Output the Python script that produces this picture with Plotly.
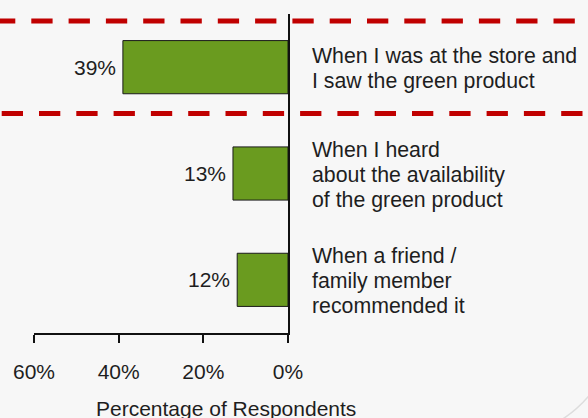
import plotly.graph_objects as go

# Data
labels = [
    ["When I was at the store and", "I saw the green product"],
    ["When I heard", "about the availability", "of the green product"],
    ["When a friend /", "family member", "recommended it"],
]
values = [39, 13, 12]
tick_vals = [60, 40, 20, 0]
tick_text = ["60%", "40%", "20%", "0%"]
categories = [" ".join(lines) for lines in labels]

W, H = 588, 418
L, R, T, B = 34, 300, 14, 85
PW, PH = W - L - R, H - T - B
FONT = "Liberation Sans, Arial, sans-serif"
TXT = "#1e1e1e"
GREEN = "#6a9b1f"
RED = "#c00000"


def px(x):
    return (x - L) / PW


def py(y):
    return 1 - (y - T) / PH


fig = go.Figure()

fig.add_trace(go.Bar(
    x=values,
    y=categories,
    orientation="h",
    width=0.5,
    marker=dict(color=GREEN, line=dict(color="#1a1a1a", width=1)),
    hoverinfo="skip",
))

annotations = []
# value labels left of each bar
for cat, v in zip(categories, values):
    annotations.append(dict(
        x=v, y=cat, xref="x", yref="y", text=f"{v}%",
        xanchor="right", yanchor="middle", xshift=-5, showarrow=False,
        font=dict(family=FONT, size=21, color=TXT),
    ))

# category labels on the right, one annotation per line
for cat, lines in zip(categories, labels):
    n = len(lines)
    for k, line in enumerate(lines):
        annotations.append(dict(
            x=1, y=cat, xref="paper", yref="y", text=line,
            xanchor="left", yanchor="middle", xshift=22,
            yshift=-(1.2 + 25 * (k - (n - 1) / 2)), showarrow=False,
            font=dict(family=FONT, size=21.3, color=TXT),
        ))

# axis title (sits off-centre in the original)
annotations.append(dict(
    x=px(226), y=py(408), xref="paper", yref="paper",
    text="Percentage of Respondents", showarrow=False,
    xanchor="center", yanchor="middle",
    font=dict(family=FONT, size=21, color=TXT),
))

# red dashed box around the top answer
shapes = []
for y0, start in [(-0.435, -6), (0.436, 1.7)]:
    shapes.append(dict(
        type="line", xref="paper", yref="y",
        x0=px(start), x1=px(W + 10), y0=y0, y1=y0,
        line=dict(color=RED, width=5, dash="21.3px,16px"),
        layer="above",
    ))

# faint slide decoration arc, bottom right
shapes.append(dict(
    type="path", xref="paper", yref="paper",
    path=f"M {px(558)} {py(422)} Q {px(578)} {py(410)} {px(592)} {py(392)}",
    line=dict(color="#dddddd", width=1.5),
))

fig.update_layout(
    width=W, height=H, autosize=False,
    margin=dict(l=L, r=R, t=T, b=B, pad=0),
    paper_bgcolor="#f7f7f7",
    plot_bgcolor="#f7f7f7",
    showlegend=False,
    font=dict(family=FONT, size=21, color=TXT),
    annotations=annotations,
    shapes=shapes,
    bargap=0.5,
)
fig.update_xaxes(
    range=[60, 0],
    tickvals=tick_vals, ticktext=tick_text,
    showgrid=False, zeroline=False,
    showline=True, linecolor="#111111", linewidth=2,
    ticks="outside", ticklen=8, tickwidth=2, tickcolor="#111111",
    ticklabelstandoff=11,
    tickfont=dict(family=FONT, size=21, color=TXT),
)
fig.update_yaxes(
    type="category", range=[2.5, -0.5],
    side="right", showticklabels=False, ticks="",
    showgrid=False, zeroline=False,
    showline=True, linecolor="#111111", linewidth=2,
)

# drop the page's default body margin so the chart sits at the window corner
fig.write_html(
    "out.html",
    config={"displayModeBar": False},
    post_script="document.body.style.margin='0';",
)
